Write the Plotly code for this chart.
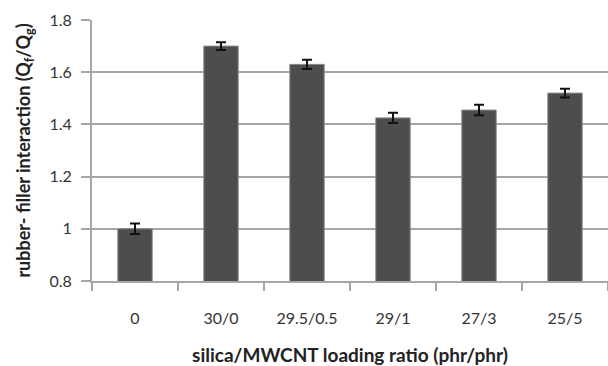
import plotly.graph_objects as go

categories = ["0", "30/0", "29.5/0.5", "29/1", "27/3", "25/5"]
values = [1.00, 1.70, 1.63, 1.425, 1.455, 1.52]
errors = [0.02, 0.015, 0.018, 0.02, 0.02, 0.017]
y_ticks = [0.8, 1.0, 1.2, 1.4, 1.6, 1.8]
y_tick_labels = ["0.8", "1", "1.2", "1.4", "1.6", "1.8"]

font_family = "Lato, 'Open Sans', sans-serif"
grid_col = "#a6a6a6"

fig = go.Figure(go.Bar(
    x=categories, y=values,
    marker=dict(color="#4d4d4d", line=dict(color="#8a8a8a", width=1)),
    error_y=dict(type="data", array=errors, color="#111111", thickness=2, width=5),
    width=0.4,
))

fig.update_layout(
    width=608, height=366,
    margin=dict(l=92, r=0, t=20, b=85),
    paper_bgcolor="white", plot_bgcolor="white",
    showlegend=False,
    font=dict(family=font_family, color="#333333", size=16),
    xaxis=dict(
        type="category", automargin=False,
        tickson="boundaries", ticks="outside", ticklen=8, tickwidth=2, tickcolor=grid_col,
        showline=True, linecolor=grid_col, linewidth=2,
        showgrid=False,
        tickfont=dict(size=16, color="#333333"),
        ticklabelstandoff=22,
        title=dict(text="<b>silica/MWCNT loading ratio (phr/phr)</b>", font=dict(size=19, color="#222222"), standoff=35),
    ),
    yaxis=dict(
        range=[0.8, 1.8], tickvals=y_ticks, ticktext=y_tick_labels, automargin=False,
        ticks="outside", ticklen=9, tickwidth=2, tickcolor=grid_col,
        showline=True, linecolor=grid_col, linewidth=2,
        showgrid=True, gridcolor=grid_col, gridwidth=2,
        zeroline=False,
        tickfont=dict(size=16, color="#333333"),
        ticklabelstandoff=6,
        title=dict(text="<b>rubber- filler interaction (Q<sub>f</sub>/Q<sub>g</sub>)</b>", font=dict(size=18, color="#222222"), standoff=14),
    ),
)

fig.write_html("out.html", config={"displayModeBar": False},
               post_script="document.body.style.margin='0';document.body.style.overflow='hidden';")
